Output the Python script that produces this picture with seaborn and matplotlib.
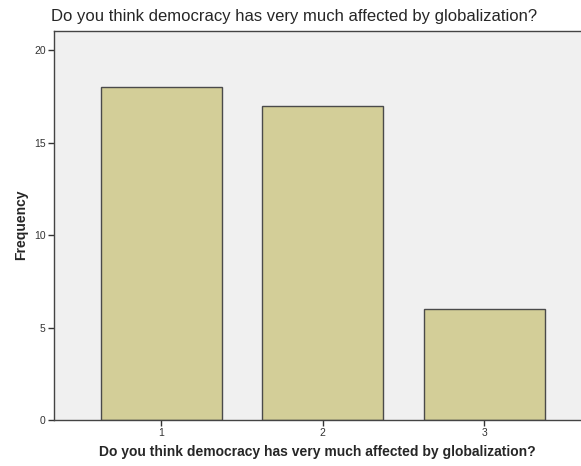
import pandas as pd
import seaborn as sns
import matplotlib.pyplot as plt

categories = ['1', '2', '3']
frequency = [18, 17, 6]
yticks = [0, 5, 10, 15, 20]

question = 'Do you think democracy has very much affected by globalization?'

df = pd.DataFrame({'answer': categories, 'Frequency': frequency})

sns.set_style('white')
plt.rcParams['font.family'] = ['Liberation Sans', 'DejaVu Sans']

fig = plt.figure(figsize=(5.81, 4.66), dpi=100)
ax = fig.add_axes([54 / 581, 1 - 420 / 466, 1 - 54 / 581, (420 - 30.5) / 466])
ax.set_facecolor('#F0F0F0')

sns.barplot(x='answer', y='Frequency', data=df, color='#D3CE98', saturation=1,
            width=0.75, edgecolor='#4A4A4A', linewidth=1, ax=ax)

ax.set_xlim(-0.664, 2.599)
ax.set_ylim(0, 21.08)
ax.set_yticks(yticks)
ax.tick_params(axis='both', direction='out', length=4, width=1, color='#333333',
               labelsize=7.5, labelcolor='#333333', pad=2, left=True, bottom=True)

for side in ['left', 'bottom', 'top']:
    ax.spines[side].set_color('#444444')
    ax.spines[side].set_linewidth(1)
ax.spines['right'].set_visible(False)

ax.set_xlabel(question, fontsize=10, fontweight='bold', labelpad=5)
ax.set_ylabel('Frequency', fontsize=10, fontweight='bold', labelpad=4)
fig.text(51 / 581, 1 - 16 / 466, question, fontsize=12, va='center', ha='left')

plt.savefig('out.png', dpi=100)
